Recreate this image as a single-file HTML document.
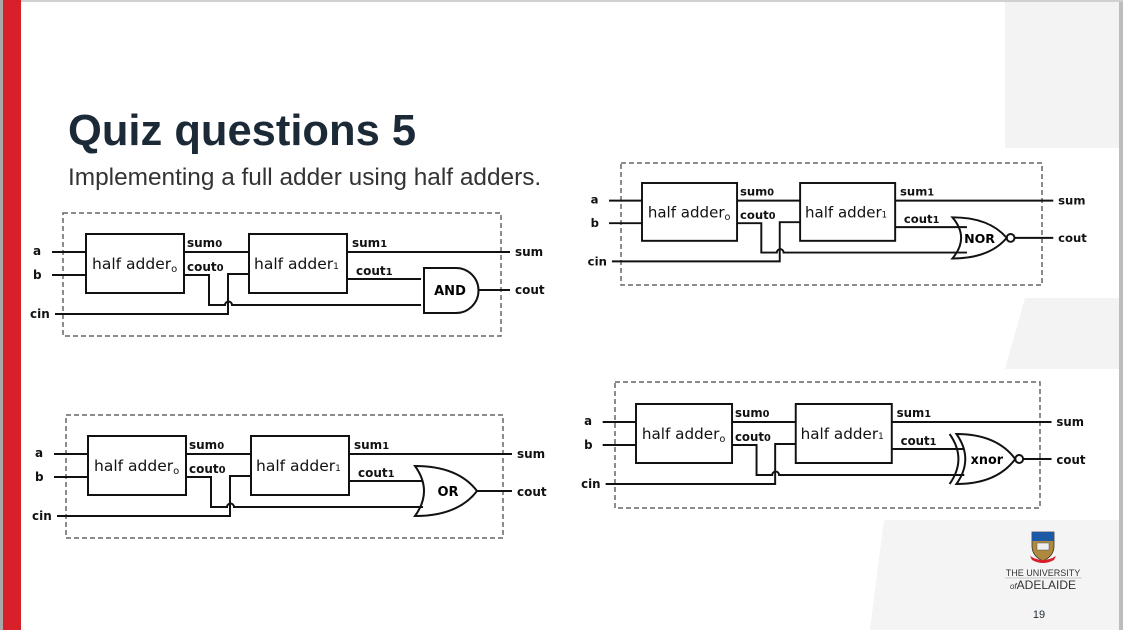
<!DOCTYPE html>
<html><head><meta charset="utf-8"><style>
html,body{margin:0;padding:0;background:#fff;}
svg{display:block;}
</style></head><body>
<svg width="1123" height="630" viewBox="0 0 1123 630" xmlns="http://www.w3.org/2000/svg" font-family="Liberation Sans, sans-serif">
<rect x="0" y="0" width="1123" height="630" fill="#fff"/>
<rect x="1005" y="0" width="118" height="148" fill="#f3f3f3"/>
<path d="M1025,298 L1123,298 L1123,369 L1005,369 Z" fill="#f3f3f3"/>
<path d="M884,520 L1123,520 L1123,630 L870,630 Z" fill="#f4f4f4"/>
<rect x="1119" y="0" width="4" height="630" fill="#bdbdbd"/>
<rect x="0" y="0" width="1123" height="2" fill="#d0d0d0"/>
<rect x="0" y="0" width="3" height="630" fill="#a8a8a8"/>
<rect x="3" y="0" width="18" height="630" fill="#d7202a"/>

<text x="68" y="145" font-size="43.5" font-weight="bold" fill="#1c2a38">Quiz questions 5</text>
<text x="68" y="185" font-size="24.4" fill="#333">Implementing a full adder using half adders.</text>

<defs>
<g id="base" stroke="#111" stroke-width="2" fill="none">
  <rect x="0" y="0" width="98" height="59"/>
  <rect x="163" y="0" width="98" height="59"/>
  <path d="M-34,18 H0 M-34,41 H0 M98,18 H163 M261,18 H424"/>
  <path d="M-31,80 H142 V40 H163"/>
  <path d="M98,41 H123 V71 H139 A3.5,3.5 0 0 1 146,71 H335"/>
  <path d="M261,45 H335"/>
</g>
<g id="lbl" font-family="DejaVu Sans, sans-serif" font-size="12" font-weight="bold" fill="#111">
  <text x="6" y="35" font-size="15.5" font-weight="normal">half adder<tspan font-size="10" dy="3">o</tspan></text>
  <text x="168" y="35" font-size="15.5" font-weight="normal">half adder<tspan font-size="9">1</tspan></text>
  <text x="101" y="13">sum<tspan font-size="10">0</tspan></text>
  <text x="101" y="37">cout<tspan font-size="10">0</tspan></text>
  <text x="266" y="13">sum<tspan font-size="10">1</tspan></text>
  <text x="270" y="41">cout<tspan font-size="10">1</tspan></text>
  <text x="-53" y="21">a</text>
  <text x="-53" y="45">b</text>
  <text x="-56" y="84">cin</text>
  <text x="429" y="22">sum</text>
  <text x="429" y="60">cout</text>
</g>
</defs>

<rect x="63" y="213" width="438" height="123" fill="none" stroke="#666" stroke-width="1.5" stroke-dasharray="5,3"/>
<g transform="translate(86,234)">
  <use href="#base"/><use href="#lbl"/>
  <g stroke="#111" stroke-width="2" fill="none">
    <path d="M338,34 H370 A22.5,22.5 0 0 1 370,79 H338 Z"/>
    <path d="M392,56 H424"/>
  </g>
  <text x="364" y="61" font-family="DejaVu Sans, sans-serif" font-size="13" font-weight="bold" text-anchor="middle">AND</text>
</g>

<rect x="66" y="415" width="437" height="123" fill="none" stroke="#666" stroke-width="1.5" stroke-dasharray="5,3"/>
<g transform="translate(88,436)">
  <use href="#base"/><use href="#lbl"/>
  <g stroke="#111" stroke-width="2" fill="none">
    <path d="M327,30 Q345,55 327,80 Q370,80 389,55 Q370,30 327,30 Z"/>
    <path d="M389,55 H424"/>
  </g>
  <text x="360" y="60" font-family="DejaVu Sans, sans-serif" font-size="13" font-weight="bold" text-anchor="middle">OR</text>
</g>

<rect x="621" y="163" width="421" height="122" fill="none" stroke="#666" stroke-width="1.5" stroke-dasharray="5,3"/>
<g transform="translate(642,183) scale(0.97,0.98)">
  <use href="#base"/><use href="#lbl"/>
  <g stroke="#111" stroke-width="2" fill="none">
    <path d="M320,35 Q338,56 320,77 Q358,77 376,56 Q358,35 320,35 Z"/>
    <circle cx="380" cy="56" r="4"/>
    <path d="M384,56 H424"/>
  </g>
  <text x="348" y="61" font-family="DejaVu Sans, sans-serif" font-size="13" font-weight="bold" text-anchor="middle">NOR</text>
</g>

<rect x="615" y="382" width="425" height="126" fill="none" stroke="#666" stroke-width="1.5" stroke-dasharray="5,3"/>
<g transform="translate(636,404) scale(0.98,1)">
  <use href="#base"/><use href="#lbl"/>
  <g stroke="#111" stroke-width="2" fill="none">
    <path d="M327,30 Q345,55 327,80 Q368,80 387,55 Q368,30 327,30 Z"/>
    <path d="M320,30 Q338,55 320,80"/>
    <circle cx="391" cy="55" r="4"/>
    <path d="M395,55 H424"/>
  </g>
  <text x="358" y="60" font-family="DejaVu Sans, sans-serif" font-size="13" font-weight="bold" text-anchor="middle">xnor</text>
</g>

<g transform="translate(1032,532)">
  <path d="M0,0 H22 V14 Q22,24 11,29 Q0,24 0,14 Z" fill="#b08a3c" stroke="#333" stroke-width="0.8"/>
  <rect x="0" y="0" width="22" height="9" fill="#1d5aa6"/>
  <rect x="5" y="11" width="12" height="7" fill="#eee" stroke="#555" stroke-width="0.5"/>
  <path d="M-2,24 Q11,32 24,24 L22,28 Q11,34 0,28 Z" fill="#d7202a"/>
</g>
<text x="1043" y="576" font-size="9" text-anchor="middle" fill="#333">THE UNIVERSITY</text>
<line x1="1005" y1="578" x2="1082" y2="578" stroke="#999" stroke-width="0.5"/>
<text x="1043" y="589" font-size="12" text-anchor="middle" fill="#333"><tspan font-size="8" font-style="italic">of</tspan>ADELAIDE</text>
<text x="1039" y="618" font-size="11" text-anchor="middle" fill="#1c2a38">19</text>
</svg>
</body></html>
